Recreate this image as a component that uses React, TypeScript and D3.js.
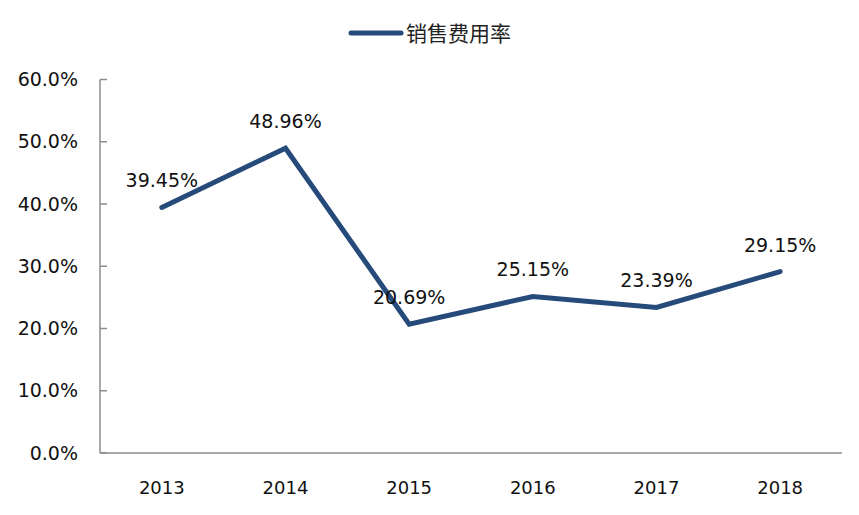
import React from "react";
import * as d3 from "d3";

const categories = ["2013", "2014", "2015", "2016", "2017", "2018"];
const values = [39.45, 48.96, 20.69, 25.15, 23.39, 29.15];
const yTicks = [0, 10, 20, 30, 40, 50, 60];
const seriesName = "销售费用率";

const W = 859;
const H = 515;
const left = 100;
const right = 842;
const top = 79.5;
const bottom = 453;
const color = "#264b7b";
const font = "'DejaVu Sans', Verdana, sans-serif";

export default function App() {
  const x = d3.scaleBand<string>().domain(categories).range([left, right]);
  const y = d3.scaleLinear().domain([0, 60]).range([bottom, top]);
  const cx = (c: string) => (x(c) as number) + x.bandwidth() / 2;
  const line = d3
    .line<number>()
    .x((_, i) => cx(categories[i]))
    .y((d) => y(d));

  return (
    <svg
      width={W}
      height={H}
      style={{ position: "absolute", left: 0, top: 0, background: "#fff" }}
    >
      {/* legend */}
      <line x1={351} x2={401} y1={33} y2={33} stroke={color} strokeWidth={5} strokeLinecap="round" />
      <text
        x={406}
        y={40.5}
        fontSize={21}
        fill="#222"
        fontFamily="'Noto Sans CJK SC', sans-serif"
      >
        {seriesName}
      </text>

      {/* axes */}
      <line x1={left} x2={left} y1={top} y2={bottom} stroke="#8c8c8c" strokeWidth={1.5} />
      <line x1={left} x2={right} y1={bottom} y2={bottom} stroke="#8c8c8c" strokeWidth={1.5} />
      {yTicks.map((t) => (
        <g key={t}>
          <line x1={left} x2={left + 7} y1={y(t)} y2={y(t)} stroke="#8c8c8c" strokeWidth={1.5} />
          <text
            x={78}
            y={y(t)}
            dy="0.35em"
            textAnchor="end"
            fontSize={19}
            fill="#111"
            fontFamily={font}
          >
            {t.toFixed(1) + "%"}
          </text>
        </g>
      ))}
      {categories.map((c) => (
        <text
          key={c}
          x={cx(c)}
          y={494}
          textAnchor="middle"
          fontSize={18}
          fill="#111"
          fontFamily={font}
        >
          {c}
        </text>
      ))}

      {/* series */}
      <path
        d={line(values) || ""}
        fill="none"
        stroke={color}
        strokeWidth={5}
        strokeLinejoin="miter"
        strokeLinecap="round"
      />
      {values.map((v, i) => (
        <text
          key={i}
          x={cx(categories[i])}
          y={y(v) - 20}
          textAnchor="middle"
          fontSize={19}
          fill="#111"
          fontFamily={font}
        >
          {v.toFixed(2) + "%"}
        </text>
      ))}
    </svg>
  );
}
